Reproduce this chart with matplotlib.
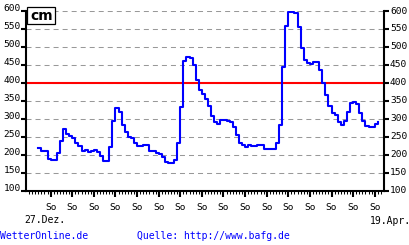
import matplotlib
matplotlib.use("Agg")
import matplotlib.pyplot as plt
from matplotlib.ticker import FixedLocator
from matplotlib.patches import Rectangle

# ---- data (water level in cm, one value per day) ----
levels = [220, 210, 210, 189, 185, 185, 205, 238, 273, 258,
          252, 247, 233, 224, 210, 214, 207, 211, 214, 207,
          197, 182, 182, 222, 294, 331, 320, 283, 264, 250,
          246, 233, 225, 225, 228, 228, 211, 211, 205, 202,
          194, 181, 178, 178, 185, 233, 333, 461, 472, 470,
          449, 407, 381, 370, 355, 337, 307, 291, 285, 298,
          298, 294, 292, 277, 254, 234, 228, 221, 227, 224,
          224, 227, 227, 216, 216, 216, 216, 234, 284, 444,
          558, 597, 597, 594, 555, 497, 465, 456, 453, 458,
          458, 435, 401, 366, 337, 317, 312, 292, 282, 295,
          318, 345, 346, 341, 315, 293, 281, 276, 276, 285,
          292]
days = list(range(len(levels)))
sunday_days = [4 + 7 * k for k in range(16)]
sunday_labels = ["So"] * len(sunday_days)
y_ticks = [100, 150, 200, 250, 300, 350, 400, 450, 500, 550, 600]
alarm_level = 400
start_label = "27.Dez."
end_label = "19.Apr."
unit_label = "cm"
left_credit = "WetterOnline.de"
right_credit = "Quelle: http://www.bafg.de"

plt.rcParams["lines.scale_dashes"] = False
plt.rcParams["font.family"] = ["DejaVu Sans Mono", "DejaVu Sans"]

W, H = 410, 245
fig = plt.figure(figsize=(W / 100, H / 100), dpi=100)
fig.patch.set_facecolor("white")

L, R, T, B = 26.3, 384.3, 11.0, 190.7
ax = fig.add_axes([L / W, 1 - B / H, (R - L) / W, (B - T) / H])
ax.set_facecolor("white")

ax.step(days, levels, where="post", color="#0000ff", lw=1.5, zorder=3)
ax.axhline(alarm_level, color="#ff0000", lw=1.5, zorder=2.5)

ax.set_xlim(-3.89, 112.1)
ax.set_ylim(100, 600)

ax.set_yticks(y_ticks)
ax.set_yticklabels([str(v) for v in y_ticks])
ax.yaxis.grid(True, color="#999999", lw=0.75, linestyle=(0, (3.6, 2.9)))
ax.set_axisbelow(True)

ax.xaxis.set_major_locator(FixedLocator(sunday_days))
ax.set_xticks(sunday_days)
ax.set_xticklabels(sunday_labels)
ax.xaxis.set_minor_locator(FixedLocator(list(range(-3, 112))))

ax.tick_params(axis="x", which="major", direction="out", length=4.5,
               width=1.5, pad=4.5, labelsize=6.8, color="black")
ax.tick_params(axis="x", which="minor", direction="out", length=2.2,
               width=0.75, color="black")
ax.tick_params(axis="y", which="major", left=True, right=True,
               labelleft=True, labelright=True, direction="out",
               length=3.6, width=1.5, pad=0.5, labelsize=6.8)

for t in ax.yaxis.get_major_ticks():
    t.label1.set_verticalalignment("baseline")
    t.label2.set_verticalalignment("center")

for side in ("left", "right", "bottom"):
    ax.spines[side].set_linewidth(1.5)
    ax.spines[side].set_color("black")
ax.spines["top"].set_visible(False)

# unit box
fig.patches.append(Rectangle((27.3 / W, 1 - 24 / H), 27.7 / W, 16.7 / H,
                             transform=fig.transFigure, facecolor="white",
                             edgecolor="black", lw=0.9, zorder=10))
fig.text(41.2 / W, 1 - 15.9 / H, unit_label, family="DejaVu Sans",
         fontweight="bold", fontsize=10, ha="center", va="center", zorder=11)

fig.text(45 / W, 1 - 220 / H, start_label, fontsize=7, ha="center", va="center")
fig.text(390 / W, 1 - 220.5 / H, end_label, fontsize=7, ha="center", va="center")
fig.text(0 / W, 1 - 236 / H, left_credit, fontsize=7, ha="left", va="center",
         color="#0000ff")
fig.text(137.3 / W, 1 - 236 / H, right_credit, fontsize=7, ha="left",
         va="center", color="#0000ff")

fig.savefig("out.png", dpi=100, facecolor="white")
